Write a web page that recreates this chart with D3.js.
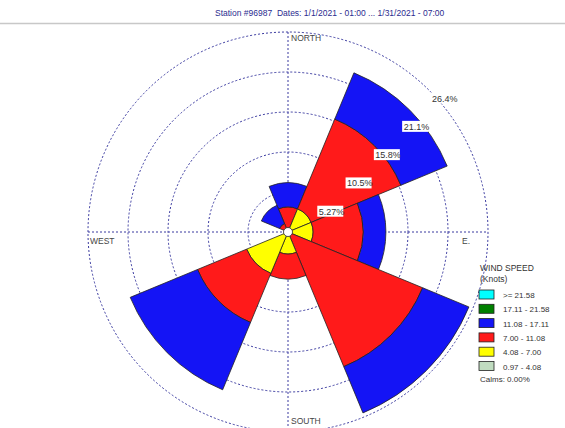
<!DOCTYPE html>
<html>
<head>
<meta charset="utf-8">
<script src="https://cdn.jsdelivr.net/npm/d3@7"></script>
<style>
  body { margin: 0; background: #fff; }
  text { font-family: Arial, "Liberation Sans", sans-serif; }
</style>
</head>
<body>
<div id="chart"></div>
<script>
// wind rose data, percent of time per direction and speed band
const directions = ["N", "NE", "E", "SE", "S", "SW", "W", "NW"];
const speedBins = ["0.97 - 4.08", "4.08 - 7.00", "7.00 - 11.08", "11.08 - 17.11", "17.11 - 21.58", ">= 21.58"];
const band1 = [0, 0, 0, 0, 0, 0, 0, 0];               // 0.97 - 4.08
const band2 = [0, 3.3, 3.3, 0, 2.9, 5.9, 0, 0];       // 4.08 - 7.00
const band3 = [3.3, 12.8, 6.6, 19.2, 3.3, 7.0, 0, 1.2]; // 7.00 - 11.08
const band4 = [3.2, 6.6, 3.0, 6.6, 0, 9.6, 0, 2.6];   // 11.08 - 17.11
const band5 = [0, 0, 0, 0, 0, 0, 0, 0];               // 17.11 - 21.58
const band6 = [0, 0, 0, 0, 0, 0, 0, 0];               // >= 21.58
const ringValues = [5.27, 10.54, 15.81, 21.08, 26.35];
const ringLabels = ["5.27%", "10.5%", "15.8%", "21.1%", "26.4%"];
const compassLabels = ["NORTH", "E.", "SOUTH", "WEST"];
const calms = "Calms: 0.00%";
const title = "Station #96987  Dates: 1/1/2021 - 01:00 ... 1/31/2021 - 07:00";

const binColors = ["#c0dcc0", "#ffff00", "#ff1a1a", "#1414f5", "#008000", "#00ffff"];

const width = 565, height = 428;
const cx = 288, cy = 232;
const maxR = 200;

const svg = d3.select("#chart").append("svg")
    .attr("width", width)
    .attr("height", height);

// header
svg.append("text")
    .attr("x", 215).attr("y", 16)
    .attr("font-size", 8.5)
    .attr("fill", "#2b2b8f")
    .style("white-space", "pre")
    .text(title);
svg.append("line")
    .attr("x1", 0).attr("x2", width)
    .attr("y1", 23.5).attr("y2", 23.5)
    .attr("stroke", "#c8c8c8").attr("stroke-width", 1.5);

const r = d3.scaleLinear().domain([0, ringValues[ringValues.length - 1]]).range([0, maxR]);
const step = Math.PI * 2 / directions.length;

const g = svg.append("g").attr("transform", `translate(${cx},${cy})`);

// grid circles
g.selectAll(".ring")
    .data(ringValues)
    .enter().append("circle")
    .attr("class", "ring")
    .attr("r", d => r(d))
    .attr("fill", "none")
    .attr("stroke", "#3a3aa0")
    .attr("stroke-width", 1)
    .attr("stroke-dasharray", "2,2");

// axes
g.append("line")
    .attr("x1", -maxR).attr("x2", maxR).attr("y1", 0).attr("y2", 0)
    .attr("stroke", "#3a3aa0").attr("stroke-dasharray", "2,2");
g.append("line")
    .attr("x1", 0).attr("x2", 0).attr("y1", -maxR).attr("y2", maxR)
    .attr("stroke", "#3a3aa0").attr("stroke-dasharray", "2,2");

// stack the bands per direction
const bands = [band1, band2, band3, band4, band5, band6];
const wedges = [];
directions.forEach(function(dir, i){
    let acc = 0;
    bands.forEach(function(b, k){
        if(b[i] > 0){
            wedges.push({dir: dir, i: i, bin: k, r0: acc, r1: acc + b[i]});
        }
        acc += b[i];
    });
});

const arc = d3.arc()
    .innerRadius(d => r(d.r0))
    .outerRadius(d => r(d.r1))
    .startAngle(d => d.i * step - step / 2)
    .endAngle(d => d.i * step + step / 2);

g.selectAll(".petal")
    .data(wedges)
    .enter().append("path")
    .attr("class", "petal")
    .attr("d", arc)
    .attr("fill", d => binColors[d.bin])
    .attr("stroke", "#222")
    .attr("stroke-width", 0.8);

g.append("circle")
    .attr("r", 4.5)
    .attr("fill", "#fff")
    .attr("stroke", "#222")
    .attr("stroke-width", 0.8);

// ring labels along the 45 degree line
const lbl = g.selectAll(".ringlbl")
    .data(ringValues)
    .enter().append("g")
    .attr("class", "ringlbl")
    .attr("transform", d => `translate(${r(d) * Math.SQRT1_2 + 1},${-r(d) * Math.SQRT1_2 + 2})`);
lbl.append("rect")
    .attr("x", 0).attr("y", 0)
    .attr("width", (d, i) => ringLabels[i].length * 4.6 + 3)
    .attr("height", 11)
    .attr("fill", "#fff");
lbl.append("text")
    .attr("x", 1.5).attr("y", 9)
    .attr("font-size", 9)
    .attr("fill", "#333")
    .text((d, i) => ringLabels[i]);

// compass labels
const compassPos = [[3, -maxR + 9], [maxR - 26, 12], [3, maxR - 8], [-maxR + 2, 12]];
g.selectAll(".compass")
    .data(compassLabels)
    .enter().append("text")
    .attr("class", "compass")
    .attr("x", (d, i) => compassPos[i][0])
    .attr("y", (d, i) => compassPos[i][1])
    .attr("font-size", 8.5)
    .attr("fill", "#444")
    .text(d => d);

// legend
const leg = svg.append("g").attr("transform", "translate(479,0)");
leg.append("text").attr("x", 1).attr("y", 271).attr("font-size", 8.5).attr("fill", "#333").text("WIND SPEED");
leg.append("text").attr("x", 1).attr("y", 282).attr("font-size", 8.5).attr("fill", "#333").text("(Knots)");

const legItems = speedBins.map((s, k) => ({label: s, bin: k})).reverse();
const li = leg.selectAll(".li")
    .data(legItems)
    .enter().append("g")
    .attr("class", "li")
    .attr("transform", (d, i) => `translate(0,${290 + i * 14.3})`);
li.append("rect")
    .attr("width", 15).attr("height", 9)
    .attr("fill", d => binColors[d.bin])
    .attr("stroke", "#222").attr("stroke-width", 0.8);
li.append("text")
    .attr("x", 24).attr("y", 8)
    .attr("font-size", 8)
    .attr("fill", "#333")
    .text(d => d.label);
leg.append("text").attr("x", 1).attr("y", 382).attr("font-size", 8).attr("fill", "#333").text(calms);
</script>
</body>
</html>
